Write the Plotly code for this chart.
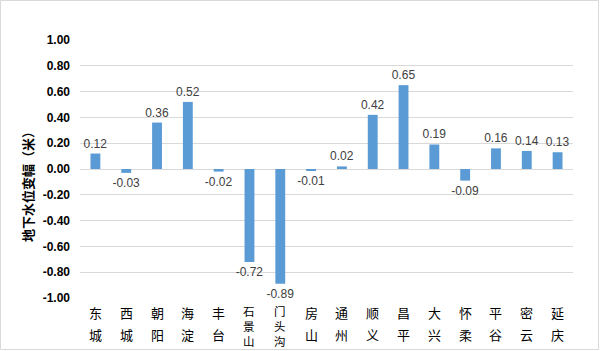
import plotly.graph_objects as go

districts = ["东城", "西城", "朝阳", "海淀", "丰台", "石景山", "门头沟", "房山",
             "通州", "顺义", "昌平", "大兴", "怀柔", "平谷", "密云", "延庆"]
values = [0.12, -0.03, 0.36, 0.52, -0.02, -0.72, -0.89, -0.01,
          0.02, 0.42, 0.65, 0.19, -0.09, 0.16, 0.14, 0.13]
ytick_vals = [-1.0, -0.8, -0.6, -0.4, -0.2, 0.0, 0.2, 0.4, 0.6, 0.8, 1.0]
ytick_text = [f"{v:.2f}" for v in ytick_vals]
y_title = "地下水位变幅（米）"

W, H = 600, 351
ML, MR, MT, MB = 80, 27, 40, 53
PW, PH = W - ML - MR, H - MT - MB

fig = go.Figure()
fig.add_trace(go.Bar(
    x=list(range(len(districts))), y=values,
    marker=dict(color="#5b9bd5", line=dict(width=0)),
    text=[f"{v:.2f}" for v in values],
    textposition="outside",
    constraintext="none",
    textfont=dict(family="Liberation Sans, Arial, sans-serif", size=12, color="#404040"),
    cliponaxis=False,
    width=0.32,
))

annotations = [dict(
    text=y_title, xref="paper", yref="paper", x=(27 - ML) / PW, y=(MT + PH - 184) / PH,
    xanchor="center", yanchor="middle", showarrow=False, textangle=-90,
    font=dict(family="Noto Sans CJK SC", size=13, color="black", weight="bold"),
)]

# vertical stacked category labels
for i, name in enumerate(districts):
    if len(name) == 2:
        for ch, cy in zip(name, [312.5, 334]):
            annotations.append(dict(
                text=ch, xref="x", yref="paper", x=i, y=(MT + PH - cy) / PH,
                xanchor="center", yanchor="middle", showarrow=False,
                font=dict(family="Noto Sans CJK SC", size=13, color="black"),
            ))
    else:
        annotations.append(dict(
            text="<br>".join(name), xref="x", yref="paper", x=i, y=(MT + PH - 325.5) / PH,
            xanchor="center", yanchor="middle", showarrow=False, borderpad=0,
            font=dict(family="Noto Sans CJK SC", size=11.5, color="black"),
        ))

fig.update_layout(
    width=W, height=H,
    margin=dict(l=ML, r=MR, t=MT, b=MB),
    paper_bgcolor="white", plot_bgcolor="white",
    showlegend=False,
    xaxis=dict(
        range=[-0.5, len(districts) - 0.5],
        showgrid=False, zeroline=False, showline=False, ticks="",
        showticklabels=False, automargin=False,
    ),
    yaxis=dict(
        range=[-1.0, 1.0], tickmode="array", tickvals=ytick_vals, ticktext=ytick_text,
        showgrid=True, gridcolor="#d9d9d9", gridwidth=1,
        zeroline=True, zerolinecolor="#d9d9d9", zerolinewidth=1,
        showline=False, ticks="", automargin=False,
        tickfont=dict(family="Liberation Sans, Arial, sans-serif", size=12, color="black", weight="bold"),
        ticklabelstandoff=9,
    ),
    annotations=annotations,
)
# border around whole figure
fig.add_shape(type="rect", xref="paper", yref="paper",
              x0=-(ML - 0.5) / PW, x1=1 + (MR - 1.5) / PW,
              y0=-(MB - 1.5) / PH, y1=1 + (MT - 0.5) / PH,
              line=dict(color="#d9d9d9", width=1))

fig.write_html("out.html")
